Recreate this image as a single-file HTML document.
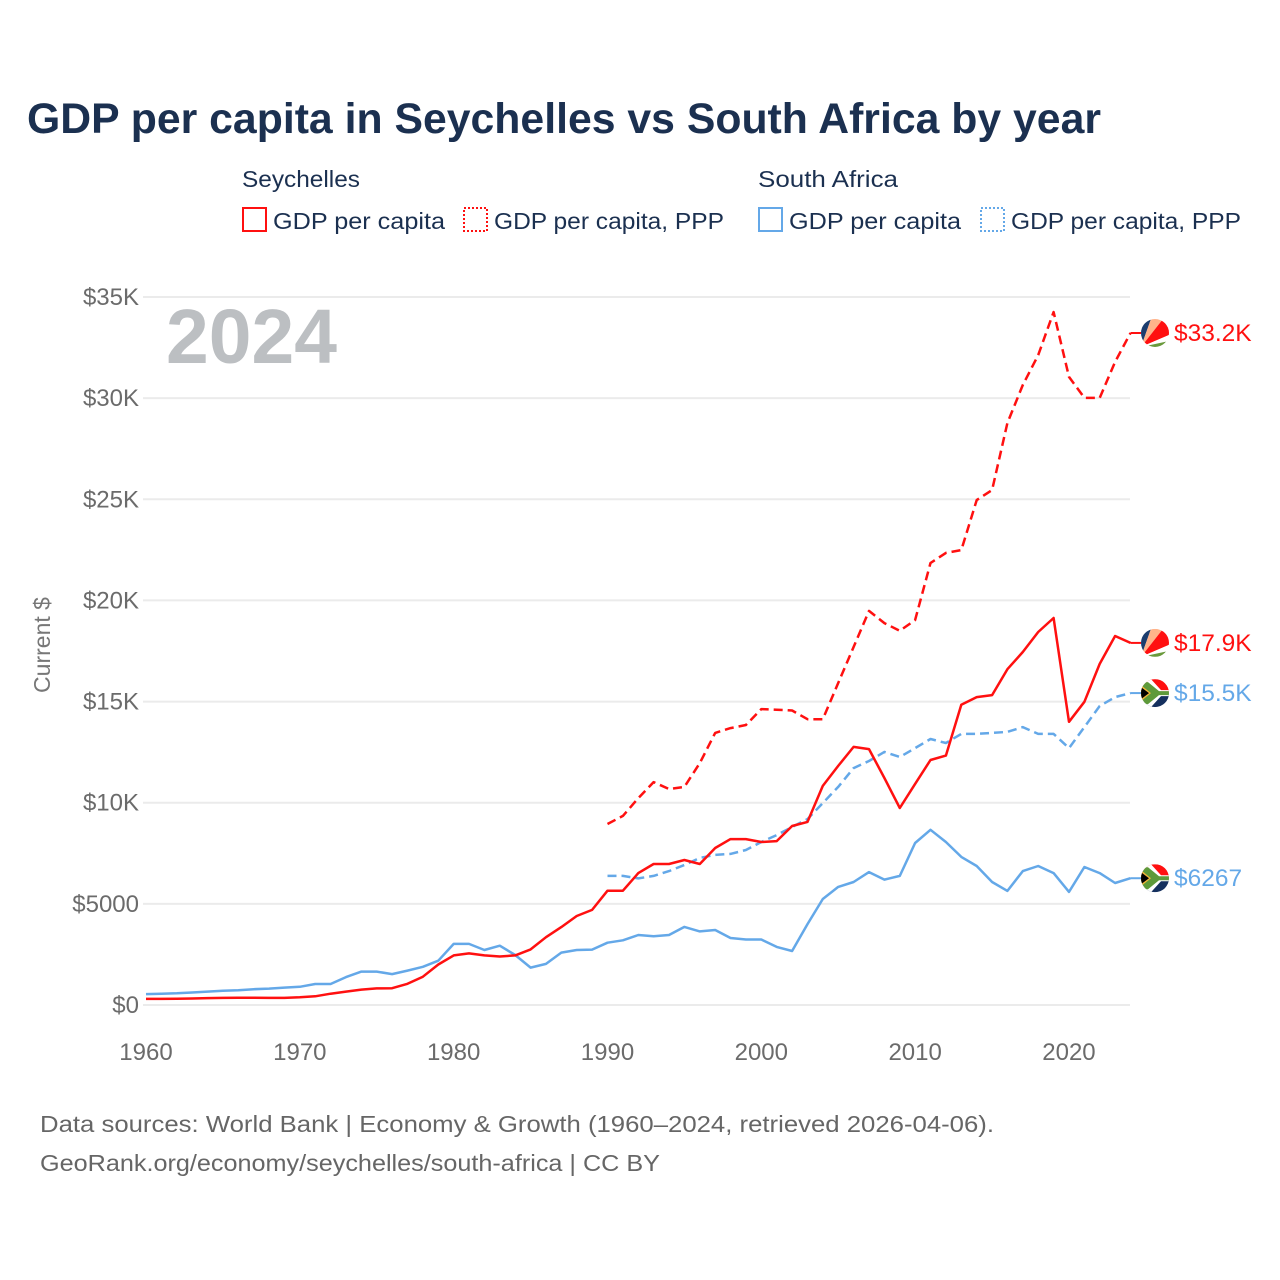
<!DOCTYPE html>
<html><head><meta charset="utf-8">
<style>
html,body{margin:0;padding:0;background:#fff;}
svg{display:block;font-family:"Liberation Sans",sans-serif;}
</style></head>
<body>
<svg id="chart" width="1280" height="1280" viewBox="0 0 1280 1280">
  <text x="27" y="133" font-size="43" font-weight="bold" fill="#1b3050" textLength="1074" lengthAdjust="spacingAndGlyphs">GDP per capita in Seychelles vs South Africa by year</text>

  <g>
    <text x="242" y="187" font-size="23" fill="#1b3050" textLength="118" lengthAdjust="spacingAndGlyphs">Seychelles</text>
    <text x="758" y="187" font-size="23" fill="#1b3050" textLength="140" lengthAdjust="spacingAndGlyphs">South Africa</text>
    <g>
      <rect x="243" y="208" width="23" height="23" fill="none" stroke="#ff1010" stroke-width="2"/>
      <text x="273" y="229" font-size="23" fill="#1b3050" textLength="172" lengthAdjust="spacingAndGlyphs">GDP per capita</text>
    </g>
    <g>
      <rect x="464" y="208" width="23" height="23" fill="none" stroke="#ff1010" stroke-width="2" stroke-dasharray="2,2"/>
      <text x="494" y="229" font-size="23" fill="#1b3050" textLength="230" lengthAdjust="spacingAndGlyphs">GDP per capita, PPP</text>
    </g>
    <g>
      <rect x="759" y="208" width="23" height="23" fill="none" stroke="#64a8e8" stroke-width="2"/>
      <text x="789" y="229" font-size="23" fill="#1b3050" textLength="172" lengthAdjust="spacingAndGlyphs">GDP per capita</text>
    </g>
    <g>
      <rect x="981" y="208" width="23" height="23" fill="none" stroke="#64a8e8" stroke-width="2" stroke-dasharray="2,2"/>
      <text x="1011" y="229" font-size="23" fill="#1b3050" textLength="230" lengthAdjust="spacingAndGlyphs">GDP per capita, PPP</text>
    </g>
  </g>

  <g id="grid"></g>
  <g id="yticks"></g>
  <g id="xticks"></g>
  <text transform="translate(50,645) rotate(-90)" text-anchor="middle" font-size="23" fill="#777">Current $</text>
  <text x="166" y="363" font-size="77" font-weight="bold" fill="#bcbfc2" textLength="171" lengthAdjust="spacingAndGlyphs">2024</text>
  <g id="series"></g>
  <g id="labels"></g>

  <defs>
    <clipPath id="fc"><circle cx="0" cy="0" r="14"/></clipPath>
    <g id="flag-sc">
      <g clip-path="url(#fc)">
        <rect x="-14" y="-14" width="28" height="28" fill="#fff"/>
        <polygon points="-14,14 -14,-14 -4,-14" fill="#1b3d6e"/>
        <polygon points="-14,14 -4,-14 8,-14" fill="#ffb38a"/>
        <polygon points="-14,14 8,-14 14,-14 14,2" fill="#ff1010"/>
        <polygon points="-14,14 14,2 14,8" fill="#fff"/>
        <polygon points="-14,14 14,8 14,14" fill="#6a9a3c"/>
      </g>
    </g>
    <g id="flag-za">
      <g clip-path="url(#fc)">
        <rect x="-14" y="-14" width="28" height="14" fill="#ff1010"/>
        <rect x="-14" y="0" width="28" height="14" fill="#15305e"/>
        <polygon points="-14,-14 -4,-14 6,-3 14,-3 14,3 6,3 -4,14 -14,14" fill="#fff"/>
        <polygon points="-14,-11 -7,-11 4,-2 14,-2 14,2 4,2 -7,11 -14,11" fill="#5e9a3a"/>
        <polygon points="-14,-8 -4,0 -14,8" fill="#f2b43a"/>
        <polygon points="-14,-6 -6,0 -14,6" fill="#000"/>
      </g>
    </g>
  </defs>

  <text x="40" y="1132" font-size="23" fill="#666" textLength="954" lengthAdjust="spacingAndGlyphs">Data sources: World Bank | Economy &amp; Growth (1960–2024, retrieved 2026-04-06).</text>
  <text x="40" y="1171" font-size="23" fill="#666" textLength="620" lengthAdjust="spacingAndGlyphs">GeoRank.org/economy/seychelles/south-africa | CC BY</text>
</svg>
<script>
const yearsFull = [1960,1961,1962,1963,1964,1965,1966,1967,1968,1969,1970,1971,1972,1973,1974,1975,1976,1977,1978,1979,1980,1981,1982,1983,1984,1985,1986,1987,1988,1989,1990,1991,1992,1993,1994,1995,1996,1997,1998,1999,2000,2001,2002,2003,2004,2005,2006,2007,2008,2009,2010,2011,2012,2013,2014,2015,2016,2017,2018,2019,2020,2021,2022,2023,2024];
const yearsPPP = [1990,1991,1992,1993,1994,1995,1996,1997,1998,1999,2000,2001,2002,2003,2004,2005,2006,2007,2008,2009,2010,2011,2012,2013,2014,2015,2016,2017,2018,2019,2020,2021,2022,2023,2024];
const seyGdp = [300,300,310,320,340,350,360,360,350,350,380,430,560,660,760,820,830,1050,1400,2000,2450,2550,2450,2400,2450,2750,3350,3850,4400,4700,5650,5650,6520,6970,6970,7170,6970,7760,8200,8200,8060,8100,8850,9050,10830,11820,12760,12650,11220,9740,10930,12110,12330,14840,15220,15320,16600,17450,18440,19130,14000,14990,16860,18240,17900];
const seyPpp = [8950,9350,10230,11020,10680,10780,11960,13450,13690,13840,14630,14600,14560,14130,14130,15920,17700,19480,18880,18500,19030,21850,22350,22490,24960,25460,28770,30650,32130,34260,31050,30010,30010,31790,33220];
const zaGdp = [540,560,580,620,660,700,730,780,810,860,900,1040,1040,1380,1650,1650,1530,1700,1890,2190,3020,3020,2720,2930,2470,1850,2030,2590,2720,2740,3080,3200,3460,3400,3460,3860,3640,3710,3310,3240,3240,2870,2670,4000,5240,5840,6080,6570,6200,6380,8010,8660,8060,7320,6870,6080,5640,6620,6870,6520,5590,6820,6520,6030,6267];
const zaPpp = [6380,6380,6260,6380,6620,6920,7270,7420,7470,7660,8060,8400,8800,9190,9980,10780,11710,12060,12510,12260,12700,13150,12950,13400,13400,13450,13500,13740,13400,13400,12700,13740,14780,15220,15420];
const yTickValues = [0,5000,10000,15000,20000,25000,30000,35000];
const yTickLabels = ["$0","$5000","$10K","$15K","$20K","$25K","$30K","$35K"];
const xTickValues = [1960,1970,1980,1990,2000,2010,2020];
const endLabels = ["$17.9K","$33.2K","$6267","$15.5K"];

const NS = "http://www.w3.org/2000/svg";
const X0 = 146, X1 = 1130.5, Y0 = 1005, Y1 = 297;
function xs(yr){ return X0 + (yr-1960)*(X1-X0)/(2024-1960); }
function ys(v){ return Y0 - v*(Y0-Y1)/35000; }
function mk(tag, attrs, parent){ const e=document.createElementNS(NS,tag); for(const k in attrs) e.setAttribute(k,attrs[k]); parent.appendChild(e); return e; }

const grid = document.getElementById('grid');
const yt = document.getElementById('yticks');
yTickValues.forEach((v,i)=>{
  const l = mk('line',{x1:143,x2:1130,y1:ys(v),y2:ys(v),stroke:'#ebebeb','stroke-width':2},grid);
  
  
  const t = mk('text',{x:139,y:ys(v)+8,'text-anchor':'end','font-size':24,fill:'#6b6b6b'},yt);
  t.textContent = yTickLabels[i];
  
  
});
const xt = document.getElementById('xticks');
xTickValues.forEach(v=>{
  const t = mk('text',{x:xs(v),y:1060,'text-anchor':'middle','font-size':24,fill:'#6b6b6b'},xt);
  t.textContent = String(v);
  
  
});

const ser = document.getElementById('series');
function line(years, vals, color, dash, name){
  const d = vals.map((v,i)=>(i?'L':'M')+xs(years[i]).toFixed(1)+','+ys(v).toFixed(1)).join(' ');
  const p = mk('path',{d:d,fill:'none',stroke:color,'stroke-width':2.5,'stroke-linejoin':'round'},ser);
  if(dash) p.setAttribute('stroke-dasharray',dash);
  
  
  return p;
}
line(yearsFull, zaGdp, '#64a8e8', null, 'line-south-africa-gdp');
line(yearsPPP, zaPpp, '#64a8e8', '9,5', 'line-south-africa-ppp');
line(yearsFull, seyGdp, '#ff1010', null, 'line-seychelles-gdp');
line(yearsPPP, seyPpp, '#ff1010', '9,5', 'line-seychelles-ppp');

const lab = document.getElementById('labels');
const ends = [
  [seyGdp[seyGdp.length-1],'#ff1010','#flag-sc',endLabels[0]],
  [seyPpp[seyPpp.length-1],'#ff1010','#flag-sc',endLabels[1]],
  [zaGdp[zaGdp.length-1],'#64a8e8','#flag-za',endLabels[2]],
  [zaPpp[zaPpp.length-1],'#64a8e8','#flag-za',endLabels[3]]
];
ends.forEach(e=>{
  const y = ys(e[0]);
  const ln = mk('line',{x1:X1,x2:1142,y1:y,y2:y,stroke:e[1],'stroke-width':2},lab);
  
  
  const u = mk('use',{href:e[2],transform:'translate(1155,'+y.toFixed(1)+')'},lab);
  
  
  const t = mk('text',{x:1174,y:y+8,'font-size':24.5,fill:e[1]},lab);
  t.textContent = e[3];
  
  
});
</script>
</body></html>
